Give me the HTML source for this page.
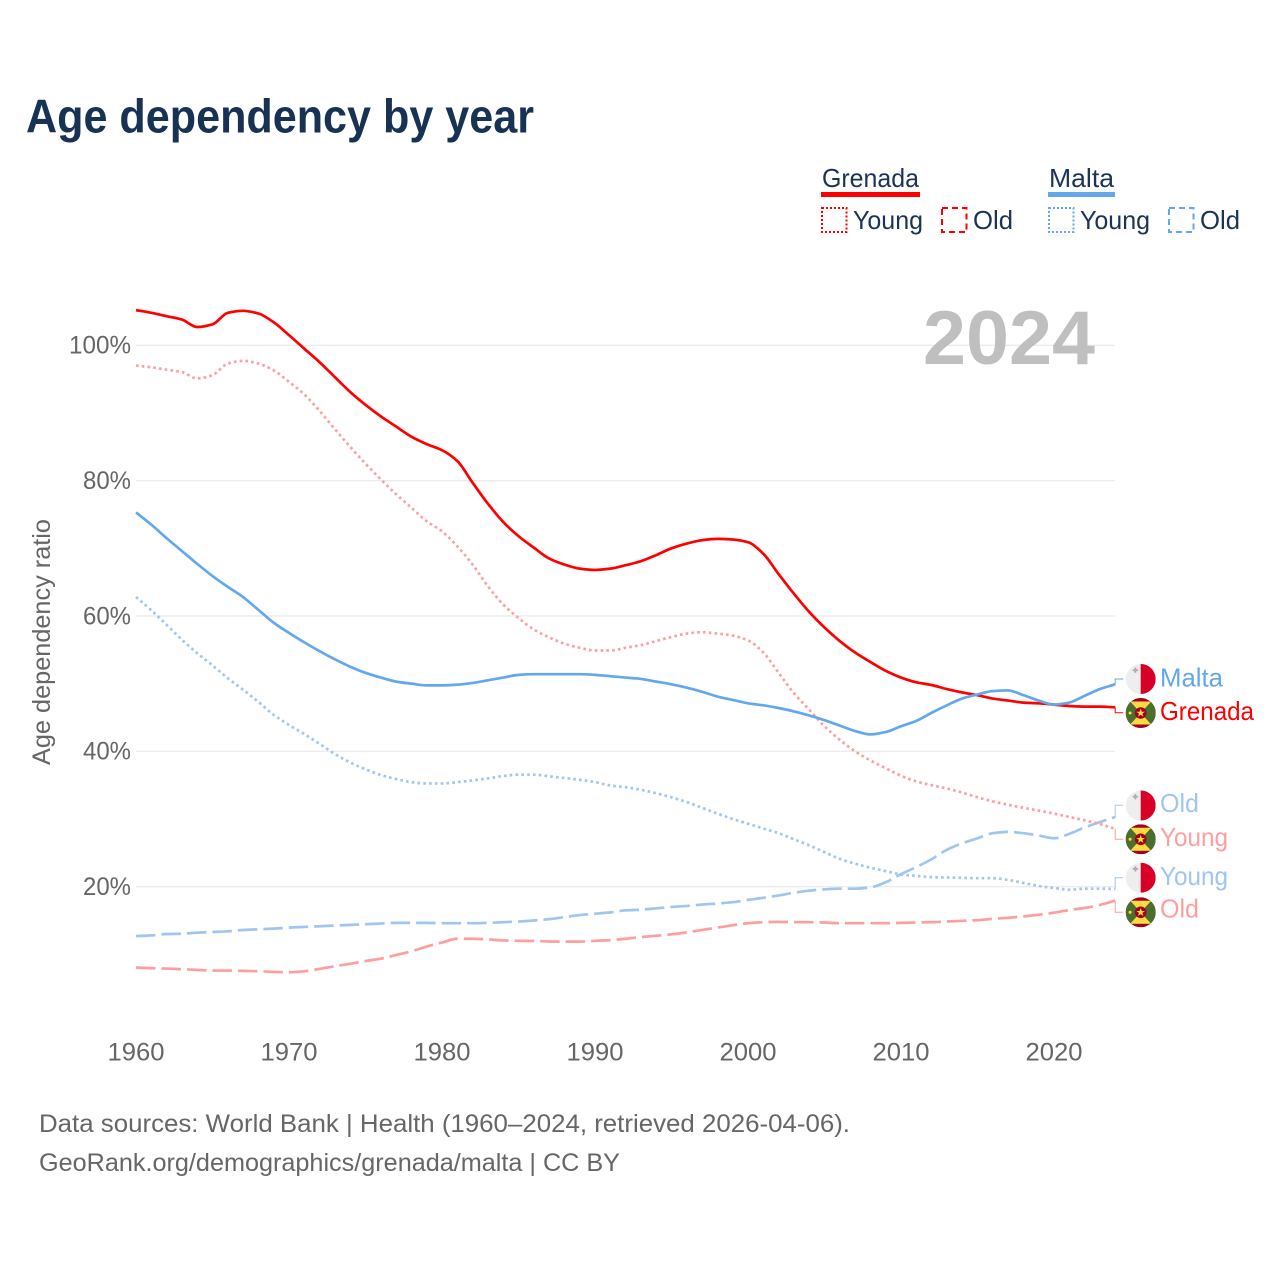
<!DOCTYPE html>
<html lang="en">
<head>
<meta charset="utf-8">
<title>Age dependency by year</title>
<style>
html,body{margin:0;padding:0;background:#fff;width:1280px;height:1280px;overflow:hidden}
svg{display:block}
text{font-family:"Liberation Sans",Arial,sans-serif}
</style>
</head>
<body>
<svg id="chart" xmlns="http://www.w3.org/2000/svg" width="1280" height="1280" viewBox="0 0 1280 1280">
  <defs>
    <clipPath id="flag-clip"><circle cx="0" cy="0" r="15"/></clipPath>
    <g id="flag-malta" clip-path="url(#flag-clip)">
      <rect x="-15" y="-15" width="30" height="30" fill="#eeeeee"/>
      <rect x="0" y="-15" width="15" height="30" fill="#d80027"/>
      <rect x="-6.2" y="-11.5" width="1.8" height="5.4" fill="#acabb1"/>
      <rect x="-8" y="-9.7" width="5.4" height="1.8" fill="#acabb1"/>
    </g>
    <g id="flag-grenada" clip-path="url(#flag-clip)">
      <rect x="-15" y="-15" width="30" height="30" fill="#a2001d"/>
      <rect x="-15" y="-11.5" width="30" height="23" fill="#496e2d"/>
      <polygon points="-10.5,-11.5 10.5,-11.5 0,0" fill="#ffda44"/>
      <polygon points="-10.5,11.5 10.5,11.5 0,0" fill="#ffda44"/>
      <circle cx="0" cy="0" r="5.8" fill="#a2001d"/>
      <polygon points="0,-4.4 1.1,-1.3 4.3,-1.3 1.7,.6 2.7,3.6 0,1.8 -2.7,3.6 -1.7,.6 -4.3,-1.3 -1.1,-1.3" fill="#ffda44"/>
      <circle cx="-10.6" cy="0" r="1.5" fill="#ffda44"/>
    </g>
  </defs>

  <text x="26" y="132.5" font-size="47" font-weight="700" fill="#173253" textLength="508" lengthAdjust="spacingAndGlyphs">Age dependency by year</text>

  <g font-size="26" fill="#1b3356">
    <text x="822" y="187" textLength="97" lengthAdjust="spacingAndGlyphs">Grenada</text>
    <rect x="821" y="192" width="99" height="5" fill="#ff0000"/>
    <rect x="822" y="208" width="24.5" height="24" fill="none" stroke="#ff0000" stroke-width="2" stroke-dasharray="2 2"/>
    <text x="853" y="229" textLength="70" lengthAdjust="spacingAndGlyphs">Young</text>
    <rect x="942" y="208" width="24.5" height="24" fill="none" stroke="#ff0000" stroke-width="2" stroke-dasharray="6 4"/>
    <text x="973" y="229" textLength="40" lengthAdjust="spacingAndGlyphs">Old</text>

    <text x="1049" y="187" textLength="65" lengthAdjust="spacingAndGlyphs">Malta</text>
    <rect x="1048" y="192" width="67" height="5" fill="#63a7ec"/>
    <rect x="1049" y="208" width="24.5" height="24" fill="none" stroke="#63a7ec" stroke-width="2" stroke-dasharray="2 2"/>
    <text x="1080" y="229" textLength="70" lengthAdjust="spacingAndGlyphs">Young</text>
    <rect x="1169" y="208" width="24.5" height="24" fill="none" stroke="#63a7ec" stroke-width="2" stroke-dasharray="6 4"/>
    <text x="1200" y="229" textLength="40" lengthAdjust="spacingAndGlyphs">Old</text>
  </g>

  <g id="grid"></g>
  <g id="yticks"></g>
  <g id="xticks"></g>

  <text x="923" y="364" font-size="76" font-weight="700" fill="#bfbfbf" textLength="172" lengthAdjust="spacingAndGlyphs">2024</text>

  <text transform="translate(50,765) rotate(-90)" font-size="25" fill="#666666" textLength="246" lengthAdjust="spacingAndGlyphs">Age dependency ratio</text>

  <g id="series"></g>

  <g font-size="26">
    <use href="#flag-malta" x="1140.7" y="679"/>
    <text x="1160" y="686.5" fill="#63a7ec" textLength="63" lengthAdjust="spacingAndGlyphs">Malta</text>
    <use href="#flag-grenada" x="1140.7" y="713"/>
    <text x="1160" y="720" fill="#ff0000" textLength="94" lengthAdjust="spacingAndGlyphs">Grenada</text>
    <use href="#flag-malta" x="1140.7" y="805.5"/>
    <text x="1160" y="812" fill="#9fc6ef" textLength="39" lengthAdjust="spacingAndGlyphs">Old</text>
    <use href="#flag-grenada" x="1140.7" y="839.3"/>
    <text x="1160" y="846" fill="#ff9e9e" textLength="68" lengthAdjust="spacingAndGlyphs">Young</text>
    <use href="#flag-malta" x="1140.7" y="877.7"/>
    <text x="1160" y="885" fill="#9fc6ef" textLength="68" lengthAdjust="spacingAndGlyphs">Young</text>
    <use href="#flag-grenada" x="1140.7" y="912.3"/>
    <text x="1160" y="917.5" fill="#ff9e9e" textLength="39" lengthAdjust="spacingAndGlyphs">Old</text>
  </g>

  <g font-size="25" fill="#666666">
    <text x="39" y="1132" textLength="811" lengthAdjust="spacingAndGlyphs">Data sources: World Bank | Health (1960–2024, retrieved 2026-04-06).</text>
    <text x="39" y="1171" textLength="581" lengthAdjust="spacingAndGlyphs">GeoRank.org/demographics/grenada/malta | CC BY</text>
  </g>
</svg>
<script>
const years = [1960,1961,1962,1963,1964,1965,1966,1967,1968,1969,1970,1971,1972,1973,1974,1975,1976,1977,1978,1979,1980,1981,1982,1983,1984,1985,1986,1987,1988,1989,1990,1991,1992,1993,1994,1995,1996,1997,1998,1999,2000,2001,2002,2003,2004,2005,2006,2007,2008,2009,2010,2011,2012,2013,2014,2015,2016,2017,2018,2019,2020,2021,2022,2023,2024];
const grenadaTotal = [105.2,104.8,104.3,103.8,102.7,103.1,104.8,105.1,104.7,103.4,101.5,99.5,97.5,95.3,93.1,91.2,89.5,88,86.5,85.4,84.5,82.9,79.7,76.6,73.9,71.8,70.1,68.5,67.6,67,66.8,67,67.5,68.1,69,70,70.7,71.2,71.4,71.3,70.9,69.2,66.2,63.3,60.6,58.3,56.3,54.6,53.2,51.9,50.9,50.2,49.8,49.2,48.7,48.3,47.8,47.5,47.2,47.1,46.9,46.7,46.6,46.6,46.5];
const maltaTotal = [75.3,73.5,71.5,69.6,67.7,65.9,64.3,62.8,60.9,59,57.5,56.1,54.8,53.6,52.5,51.6,50.9,50.3,50,49.75,49.75,49.85,50.1,50.5,50.9,51.3,51.4,51.4,51.4,51.4,51.3,51.1,50.9,50.7,50.3,49.9,49.4,48.8,48.1,47.6,47.1,46.8,46.4,45.9,45.3,44.6,43.8,43,42.5,42.85,43.7,44.5,45.7,46.8,47.8,48.4,48.9,49,48.3,47.5,46.9,47.2,48.2,49.2,49.9];
const grenadaYoung = [97,96.75,96.4,96.05,95.1,95.6,97.3,97.7,97.3,96.3,94.6,92.75,90.3,87.6,85,82.5,80.2,78,76,74,72.5,70.3,67.6,64.4,61.7,59.7,58,56.85,55.9,55.3,54.9,54.9,55.3,55.7,56.3,56.9,57.4,57.6,57.4,57.1,56.4,54.6,51.6,48.6,46.15,43.7,41.7,40,38.65,37.5,36.4,35.55,35,34.5,33.9,33.2,32.6,32.1,31.65,31.25,30.8,30.3,29.8,29.25,28.55];
const maltaYoung = [62.8,60.85,58.7,56.5,54.5,52.7,50.8,49.1,47.3,45.4,43.9,42.55,41.1,39.6,38.35,37.35,36.5,35.9,35.45,35.25,35.25,35.45,35.7,36,36.35,36.55,36.55,36.3,36.05,35.8,35.45,34.95,34.7,34.3,33.8,33.2,32.5,31.65,30.8,30,29.3,28.6,27.9,27,26.1,25.1,24.1,23.4,22.8,22.3,21.8,21.6,21.4,21.35,21.3,21.25,21.25,21,20.55,20.1,19.8,19.55,19.7,19.7,19.65];
const grenadaOld = [8.05,7.95,7.9,7.8,7.7,7.6,7.6,7.55,7.5,7.4,7.35,7.5,7.85,8.25,8.6,9,9.35,9.9,10.45,11.15,11.75,12.3,12.3,12.2,12.05,12,11.98,11.9,11.88,11.88,12,12.1,12.3,12.55,12.75,12.95,13.25,13.6,13.95,14.3,14.6,14.75,14.8,14.75,14.75,14.7,14.6,14.6,14.6,14.6,14.65,14.7,14.75,14.85,14.95,15.05,15.25,15.4,15.6,15.85,16.15,16.55,16.85,17.3,17.95];
const maltaOld = [12.7,12.8,13,13.05,13.2,13.3,13.4,13.6,13.7,13.8,13.95,14.05,14.15,14.25,14.35,14.45,14.55,14.65,14.65,14.65,14.6,14.6,14.6,14.65,14.75,14.85,15,15.2,15.5,15.8,16,16.2,16.5,16.6,16.8,17,17.15,17.35,17.5,17.7,18.05,18.35,18.7,19.1,19.4,19.6,19.7,19.7,19.9,20.65,21.85,22.9,24.05,25.45,26.4,27.15,27.9,28.1,27.9,27.55,27.15,27.8,28.75,29.55,30.3];
const yTickValues = [100,80,60,40,20];
const yTickLabels = ['100%','80%','60%','40%','20%'];
const xTickValues = [1960,1970,1980,1990,2000,2010,2020];
const xTickLabels = ['1960','1970','1980','1990','2000','2010','2020'];

const SVGNS = 'http://www.w3.org/2000/svg';
const xScale = function (year) { return 136 + (year - 1960) * 15.3; };
const yScale = function (value) { return 1022 - value * 6.767; };
const make = function (tag) { return document.createElementNS(SVGNS, tag); };

const monotonePath = function (xs, ys) {
  const n = xs.length;
  const d = [];
  for (let i = 0; i < n - 1; i++) { d.push((ys[i + 1] - ys[i]) / (xs[i + 1] - xs[i])); }
  const m = [d[0]];
  for (let i = 1; i < n - 1; i++) {
    m.push(d[i - 1] * d[i] <= 0 ? 0 : 2 * d[i - 1] * d[i] / (d[i - 1] + d[i]));
  }
  m.push(d[n - 2]);
  let out = 'M' + xs[0].toFixed(2) + ' ' + ys[0].toFixed(2);
  for (let i = 0; i < n - 1; i++) {
    const h = (xs[i + 1] - xs[i]) / 3;
    out += 'C' + (xs[i] + h).toFixed(2) + ' ' + (ys[i] + m[i] * h).toFixed(2) + ' ' +
      (xs[i + 1] - h).toFixed(2) + ' ' + (ys[i + 1] - m[i + 1] * h).toFixed(2) + ' ' +
      xs[i + 1].toFixed(2) + ' ' + ys[i + 1].toFixed(2);
  }
  return out;
};

const gridGroup = document.getElementById('grid');
const yTickGroup = document.getElementById('yticks');
yTickValues.forEach(function (v, i) {
  const line = make('line');
  
  
  line.setAttribute('x1', xScale(1960));
  line.setAttribute('x2', xScale(2024));
  line.setAttribute('y1', yScale(v));
  line.setAttribute('y2', yScale(v));
  line.setAttribute('stroke', '#ececec');
  line.setAttribute('stroke-width', '1.4');
  gridGroup.appendChild(line);
  const label = make('text');
  
  
  label.setAttribute('x', 131);
  label.setAttribute('y', yScale(v) + 8.3);
  label.setAttribute('text-anchor', 'end');
  label.setAttribute('font-size', '25');
  label.setAttribute('fill', '#666666');
  label.setAttribute('textLength', yTickLabels[i].length === 4 ? 62 : 48);
  label.setAttribute('lengthAdjust', 'spacingAndGlyphs');
  label.textContent = yTickLabels[i];
  yTickGroup.appendChild(label);
});

const xTickGroup = document.getElementById('xticks');
xTickValues.forEach(function (yr, i) {
  const label = make('text');
  
  
  label.setAttribute('x', xScale(yr));
  label.setAttribute('y', 1060.5);
  label.setAttribute('text-anchor', 'middle');
  label.setAttribute('font-size', '25');
  label.setAttribute('fill', '#666666');
  label.setAttribute('textLength', 57);
  label.setAttribute('lengthAdjust', 'spacingAndGlyphs');
  label.textContent = xTickLabels[i];
  xTickGroup.appendChild(label);
});

const seriesGroup = document.getElementById('series');
const drawSeries = function (name, values, color, dash, labelY) {
  const xs = values.map(function (v, i) { return xScale(years[i]); });
  const ys = values.map(function (v) { return yScale(v); });
  const line = make('path');
  
  
  line.setAttribute('d', monotonePath(xs, ys));
  line.setAttribute('fill', 'none');
  line.setAttribute('stroke', color);
  line.setAttribute('stroke-width', '2.7');
  line.setAttribute('stroke-linejoin', 'round');
  if (dash) { line.setAttribute('stroke-dasharray', dash); }
  seriesGroup.appendChild(line);
  const endX = xs[xs.length - 1];
  const endY = ys[ys.length - 1];
  const conn = make('polyline');
  
  
  conn.setAttribute('points', endX + ',' + endY + ' ' + endX + ',' + labelY + ' ' + (endX + 8) + ',' + labelY);
  conn.setAttribute('fill', 'none');
  conn.setAttribute('stroke', color);
  conn.setAttribute('stroke-width', '1');
  seriesGroup.appendChild(conn);
};
const dotted = '2.6 3.2';
const dashed = '19.5 6';
drawSeries('grenada-old', grenadaOld, '#ff9e9e', dashed, 912.3);
drawSeries('malta-old', maltaOld, '#9fc6ef', dashed, 805.3);
drawSeries('grenada-young', grenadaYoung, '#ff9e9e', dotted, 839.3);
drawSeries('malta-young', maltaYoung, '#9fc6ef', dotted, 877.7);
drawSeries('grenada-total', grenadaTotal, '#ff0000', null, 712.7);
drawSeries('malta-total', maltaTotal, '#63a7ec', null, 679);
</script>
</body>
</html>
